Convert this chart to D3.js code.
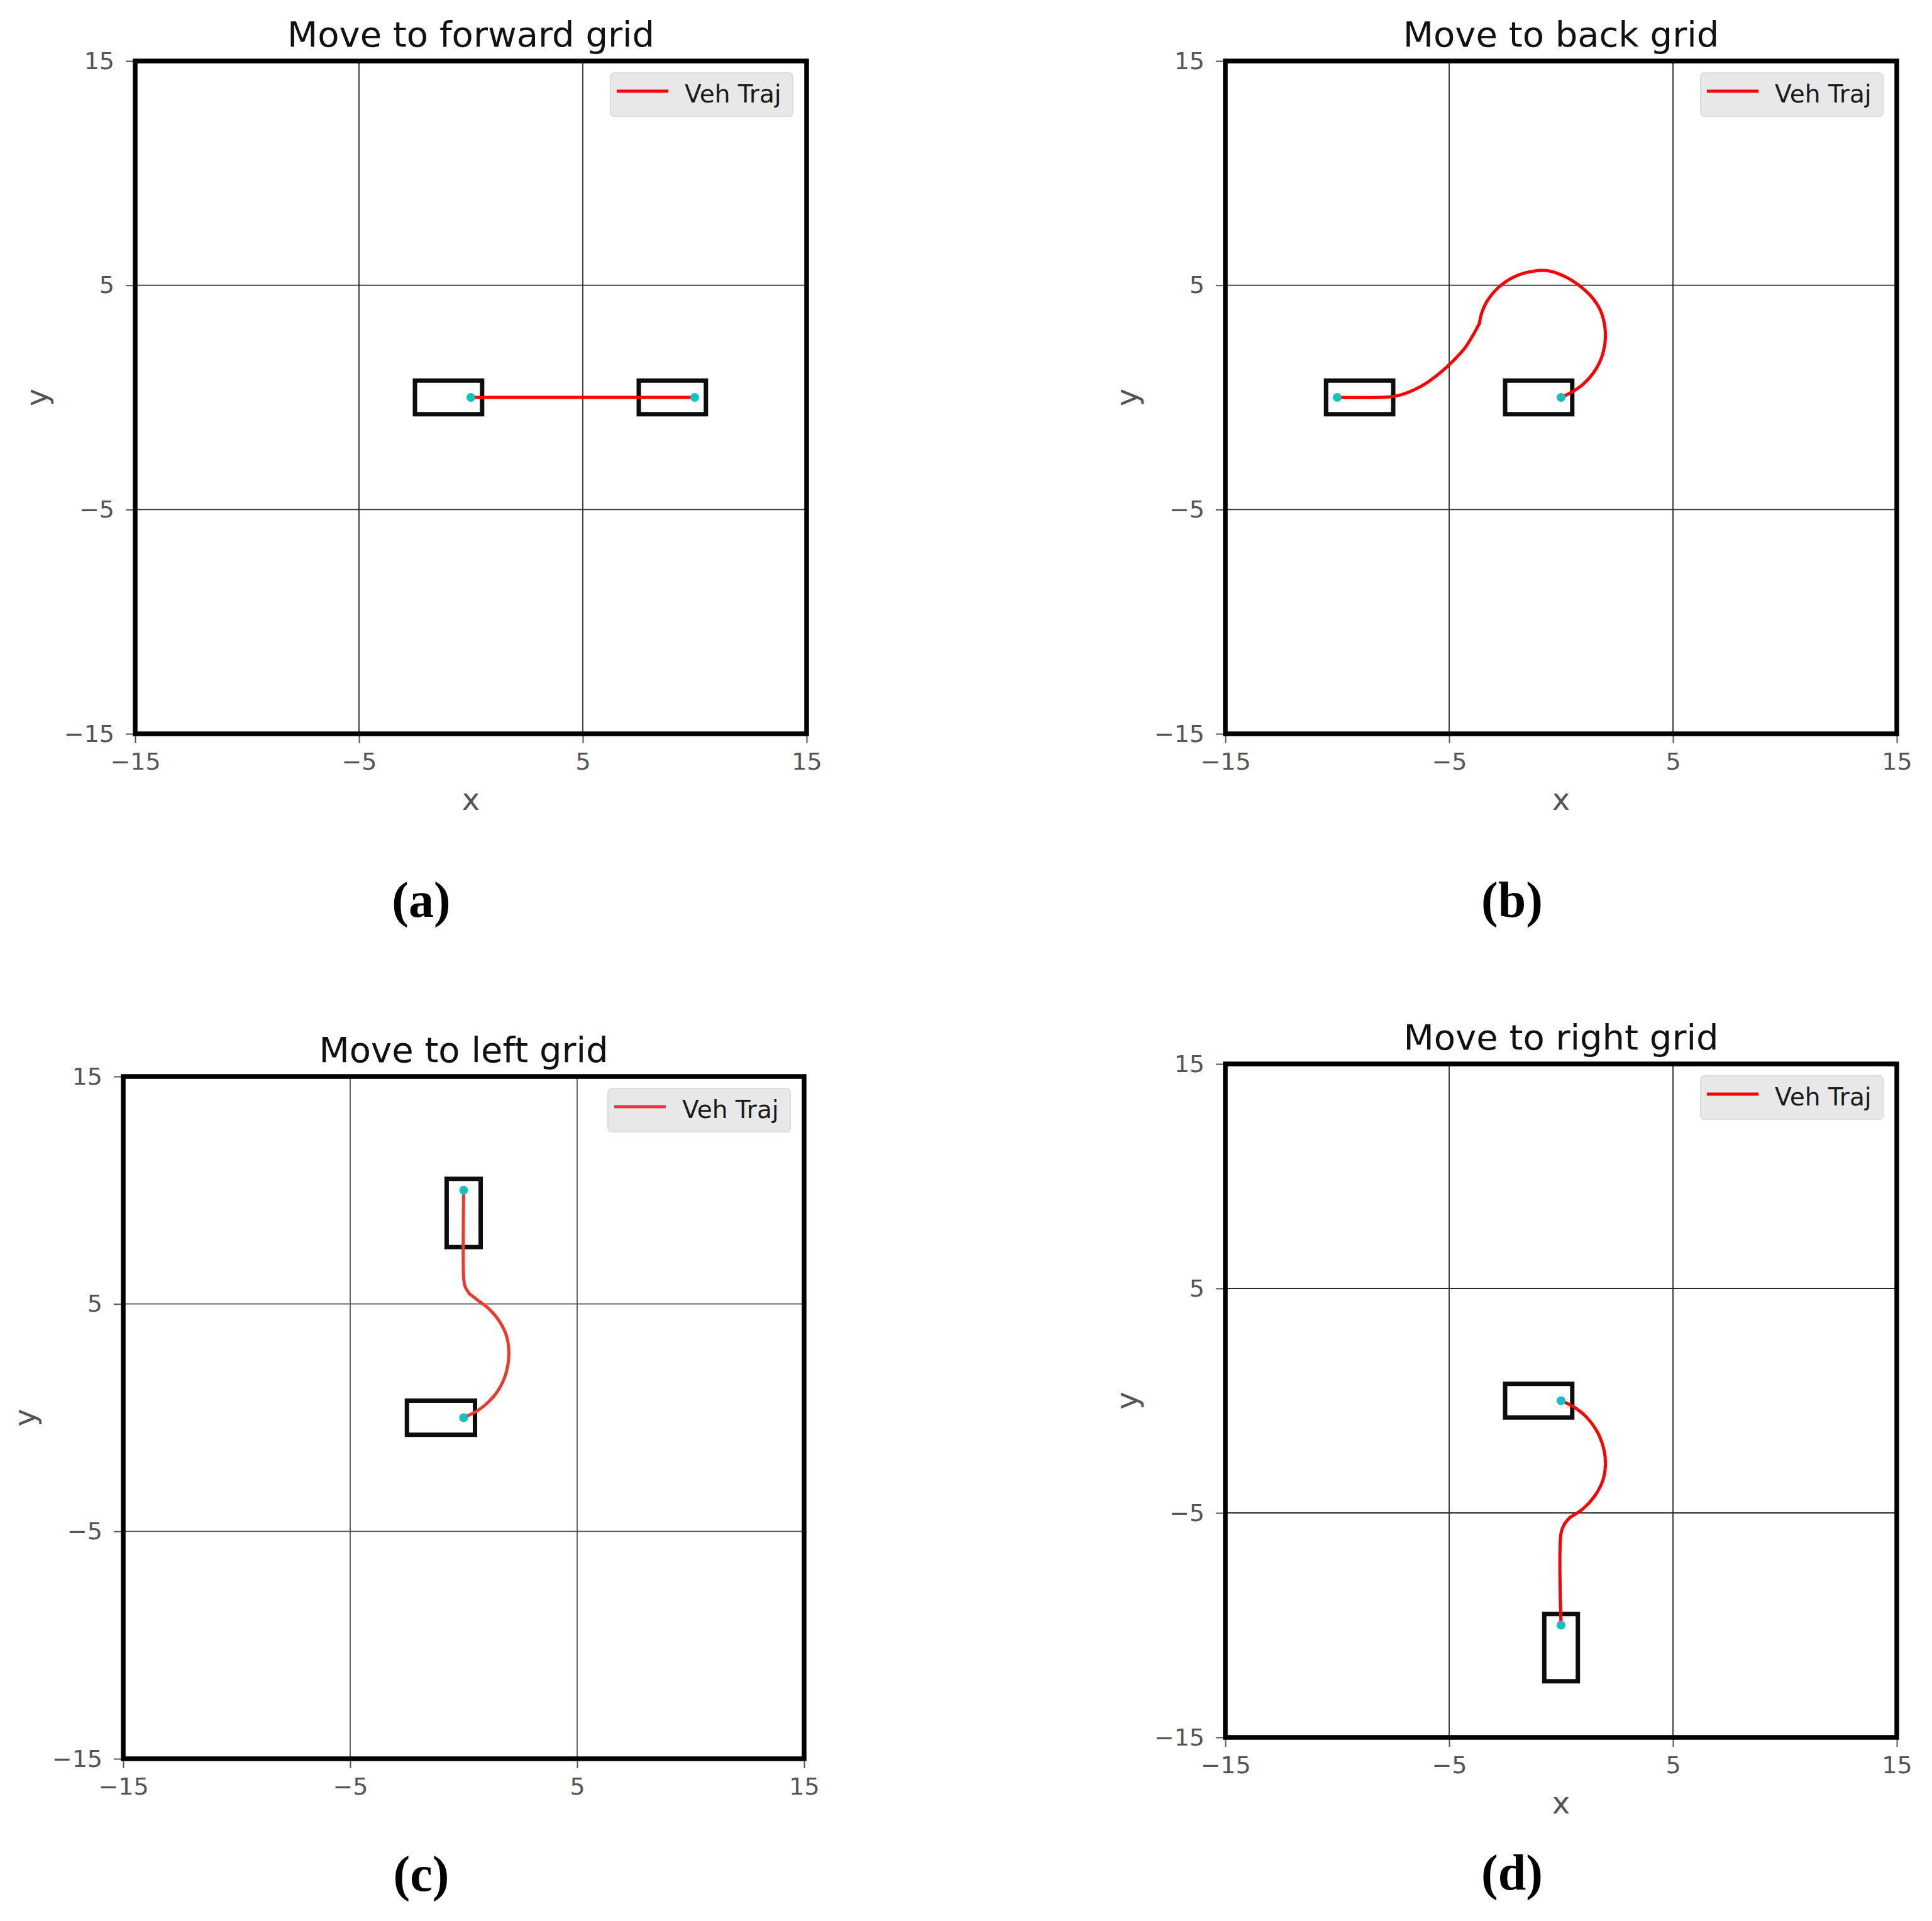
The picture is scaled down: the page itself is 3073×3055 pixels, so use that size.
<!DOCTYPE html>
<html>
<head>
<meta charset="utf-8">
<script src="https://cdnjs.cloudflare.com/ajax/libs/d3/7.8.5/d3.min.js"></script>
<style>
  body { margin: 0; background: #fff; }
  svg { display: block; }
</style>
</head>
<body>
<svg id="fig"></svg>
<script>
(function(){

    // ---- data ----
    var titles = ["Move to forward grid", "Move to back grid", "Move to left grid", "Move to right grid"];
    var letters = ["(a)", "(b)", "(c)", "(d)"];
    var tickValues = [-15, -5, 5, 15];
    var legendLabel = "Veh Traj";

    // trajectories as lists of segments (split where the path has a cusp), points [x, y]
    var trajA = [[[0, 0], [10, 0]]];
    var trajB = [
        [[0, 0], [0.5, 0.25], [1.0, 0.6], [1.45, 1.1], [1.8, 1.75], [1.97, 2.5], [1.95, 3.2],
         [1.75, 3.9], [1.35, 4.5], [0.8, 5.0], [0.15, 5.4], [-0.6, 5.65], [-1.4, 5.6],
         [-2.15, 5.35], [-2.8, 4.9], [-3.3, 4.3], [-3.55, 3.75], [-3.65, 3.3]],
        [[-3.65, 3.3], [-3.95, 2.75], [-4.3, 2.2], [-4.8, 1.65], [-5.4, 1.1], [-6.0, 0.65],
         [-6.6, 0.32], [-7.2, 0.1], [-7.7, 0.02], [-10, 0]]
    ];
    var trajC = [
        [[0, 0], [0.55, 0.27], [1.05, 0.65], [1.52, 1.2], [1.85, 1.9], [1.99, 2.75],
         [1.9, 3.55], [1.6, 4.2], [1.15, 4.75], [0.6, 5.18], [0.25, 5.45]],
        [[0.25, 5.45], [0.05, 5.8], [0, 6.15], [0, 10]]
    ];
    var trajD = [
        [[0, 0], [0.6, -0.3], [1.2, -0.8], [1.65, -1.45], [1.92, -2.2], [1.98, -2.9],
         [1.85, -3.6], [1.5, -4.25], [1.0, -4.8], [0.4, -5.2]],
        [[0.4, -5.2], [0.15, -5.5], [0, -5.9], [0, -10]]
    ];

    // vehicle poses [x, y, heading in degrees]
    var posesA = [[0, 0, 0], [10, 0, 0]];
    var posesB = [[0, 0, 0], [-10, 0, 180]];
    var posesC = [[0, 0, 0], [0, 10, 90]];
    var posesD = [[0, 0, 0], [0, -10, 90]];

    // vehicle outline relative to reference point (along heading / lateral)
    var vehRear = -2.5, vehFront = 0.5, vehHalfW = 0.75;

    // ---- layout ----
    var W = 3073, H = 3055;
    var panels = [
        {left: 215, top: 97, right: 1283, bottom: 1167, traj: trajA, poses: posesA, xlabel: true, lx: 670, ly: 1458, grid: "#2b2b2b", red: "#ff0000"},
        {left: 1949, top: 97, right: 3017, bottom: 1167, traj: trajB, poses: posesB, xlabel: true, lx: 2405, ly: 1458, grid: "#2b2b2b", red: "#ff0000"},
        {left: 196, top: 1712, right: 1279, bottom: 2797, traj: trajC, poses: posesC, xlabel: false, lx: 670, ly: 3007, grid: "#555555", red: "#ec3a2c"},
        {left: 1949, top: 1692, right: 3017, bottom: 2763, traj: trajD, poses: posesD, xlabel: true, lx: 2405, ly: 3005, grid: "#2b2b2b", red: "#ff0000"}
    ];

    var svg = d3.select("svg#fig")
        .attr("width", W)
        .attr("height", H)
        .attr("viewBox", "0 0 " + W + " " + H);

    svg.append("rect").attr("width", W).attr("height", H).attr("fill", "#fff");

    var font = "'DejaVu Sans', sans-serif";

    panels.forEach(function(p, i) {
        var g = svg.append("g");

        var xScale = d3.scaleLinear().domain([-15, 15]).range([p.left, p.right]);
        var yScale = d3.scaleLinear().domain([-15, 15]).range([p.bottom, p.top]);

        // grid
        g.append("g").selectAll("line.gx")
            .data(tickValues)
            .enter().append("line")
            .attr("x1", d => xScale(d)).attr("x2", d => xScale(d))
            .attr("y1", p.top).attr("y2", p.bottom)
            .attr("stroke", p.grid).attr("stroke-width", 1.8);
        g.append("g").selectAll("line.gy")
            .data(tickValues)
            .enter().append("line")
            .attr("y1", d => yScale(d)).attr("y2", d => yScale(d))
            .attr("x1", p.left).attr("x2", p.right)
            .attr("stroke", p.grid).attr("stroke-width", 1.8);

        // axes
        var xAxis = g.append("g")
            .attr("transform", "translate(0," + p.bottom + ")")
            .call(d3.axisBottom(xScale).tickValues(tickValues).tickSize(15).tickPadding(15));
        var yAxis = g.append("g")
            .attr("transform", "translate(" + p.left + ",0)")
            .call(d3.axisLeft(yScale).tickValues(tickValues).tickSize(15).tickPadding(18));
        [xAxis, yAxis].forEach(function(a) {
            a.select(".domain").remove();
            a.selectAll(".tick line").attr("stroke", "#555").attr("stroke-width", 2);
            a.selectAll(".tick text")
                .attr("fill", "#555")
                .style("font-family", font)
                .style("font-size", "38px");
        });

        // vehicle outlines
        var outline = d3.line()
            .x(d => xScale(d[0]))
            .y(d => yScale(d[1]));
        g.append("g").selectAll("path.veh")
            .data(p.poses)
            .enter().append("path")
            .attr("d", function(d) {
                var a = d[2] * Math.PI / 180, c = Math.cos(a), s = Math.sin(a);
                var pts = [[vehRear, -vehHalfW], [vehFront, -vehHalfW], [vehFront, vehHalfW], [vehRear, vehHalfW]]
                    .map(q => [d[0] + q[0] * c - q[1] * s, d[1] + q[0] * s + q[1] * c]);
                return outline(pts) + "Z";
            })
            .attr("fill", "none")
            .attr("stroke", "#0d0d0d")
            .attr("stroke-width", 7)
            .attr("stroke-linejoin", "miter");

        // trajectory
        var line = d3.line()
            .x(d => xScale(d[0]))
            .y(d => yScale(d[1]))
            .curve(d3.curveCatmullRom.alpha(0.5));
        g.append("g").selectAll("path.traj")
            .data(p.traj)
            .enter().append("path")
            .attr("d", line)
            .attr("fill", "none")
            .attr("stroke", p.red)
            .attr("stroke-width", 5)
            .attr("stroke-linecap", "round")
            .attr("stroke-linejoin", "round");

        // reference points
        g.append("g").selectAll("circle")
            .data(p.poses)
            .enter().append("circle")
            .attr("cx", d => xScale(d[0]))
            .attr("cy", d => yScale(d[1]))
            .attr("r", 7)
            .attr("fill", "#17bfbf");

        // frame
        g.append("rect")
            .attr("x", p.left).attr("y", p.top)
            .attr("width", p.right - p.left).attr("height", p.bottom - p.top)
            .attr("fill", "none")
            .attr("stroke", "#000")
            .attr("stroke-width", 7.5);

        // legend
        var lgX = p.right - 22 - 290, lgY = p.top + 19;
        g.append("rect")
            .attr("x", lgX).attr("y", lgY)
            .attr("width", 290).attr("height", 69)
            .attr("rx", 6)
            .attr("fill", "#e8e8e8")
            .attr("stroke", "#dddddd")
            .attr("stroke-width", 2);
        g.append("line")
            .attr("x1", lgX + 10).attr("x2", lgX + 92)
            .attr("y1", lgY + 29).attr("y2", lgY + 29)
            .attr("stroke", p.red).attr("stroke-width", 5);
        g.append("text")
            .attr("x", lgX + 118).attr("y", lgY + 47)
            .style("font-family", font).style("font-size", "39px")
            .attr("fill", "#1a1a1a")
            .text(legendLabel);

        // title
        g.append("text")
            .attr("x", (p.left + p.right) / 2)
            .attr("y", p.top - 23)
            .attr("text-anchor", "middle")
            .style("font-family", font).style("font-size", "56px")
            .attr("fill", "#111")
            .text(titles[i]);

        // axis labels
        if (p.xlabel) {
            g.append("text")
                .attr("x", (p.left + p.right) / 2)
                .attr("y", p.bottom + 121)
                .attr("text-anchor", "middle")
                .style("font-family", font).style("font-size", "48px")
                .attr("fill", "#555")
                .text("x");
        }
        g.append("text")
            .attr("transform", "translate(" + (p.left - 140) + "," + ((p.top + p.bottom) / 2) + ") rotate(-90)")
            .attr("text-anchor", "middle")
            .style("font-family", font).style("font-size", "48px")
            .attr("fill", "#555")
            .text("y");

        // panel letter
        svg.append("text")
            .attr("x", p.lx).attr("y", p.ly)
            .attr("text-anchor", "middle")
            .style("font-family", "'Liberation Serif', 'Times New Roman', serif")
            .style("font-size", "80px")
            .style("font-weight", "bold")
            .text(letters[i]);
    });

})();
</script>
</body>
</html>
